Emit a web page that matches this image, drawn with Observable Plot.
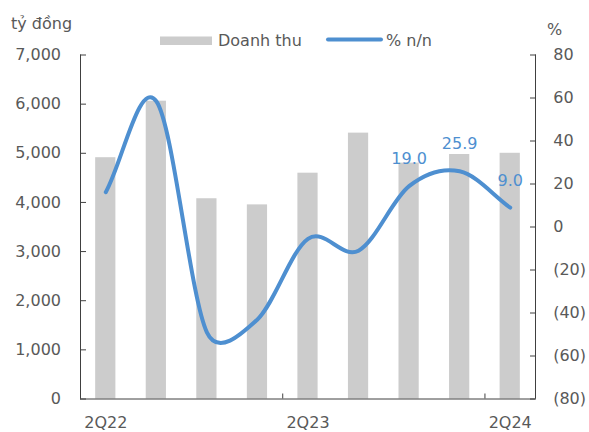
<!DOCTYPE html>
<html>
<head>
<meta charset="utf-8">
<script src="https://cdn.jsdelivr.net/npm/d3@7"></script>
<script src="https://cdn.jsdelivr.net/npm/@observablehq/plot@0.6"></script>
<style>
  html, body { margin: 0; padding: 0; background: #fff; }
  #wrap { position: relative; width: 589px; height: 432px; font-family: "DejaVu Sans", sans-serif; }
  #legend { position: absolute; left: 0; top: 0; pointer-events: none; }
</style>
</head>
<body>
<div id="wrap"></div>
<script>
// ---- data ----
const quarters = ["2Q22", "3Q22", "4Q22", "1Q23", "2Q23", "3Q23", "4Q23", "1Q24", "2Q24"];
const revenue = [4910, 6060, 4075, 3950, 4595, 5410, 4800, 4975, 5000];   // tỷ đồng
const growth = [16.2, 58.5, -49, -43, -5.5, -11, 19.0, 25.9, 9.0];        // % n/n
const labeledQuarters = ["4Q23", "1Q24", "2Q24"];
const leftTicks = [0, 1000, 2000, 3000, 4000, 5000, 6000, 7000];
const rightTicks = [-80, -60, -40, -20, 0, 20, 40, 60, 80];
const xLabelQuarters = ["2Q22", "2Q23", "2Q24"];
const xBoundaryAfter = [-1, 3, 7, 8]; // tick marks after these category indices

const yMax = 7000, pMin = -80, pMax = 80;
const pctToY = p => (p - pMin) / (pMax - pMin) * yMax;
const yToPct = y => y / yMax * (pMax - pMin) + pMin;
const fmtPct = p => { const r = Math.round(p); return r < 0 ? `(${-r})` : `${r}`; };

const rows = quarters.map((q, i) => ({ q, i, rev: revenue[i], pct: growth[i] }));

const textColor = "#595959";
const axisColor = "#404040";
const barColor = "#cccccc";
const lineColor = "#4e8fd0";
const halfBar = 0.2;

const xDomain = [-0.5, quarters.length - 0.5];

// spreadsheet-style smoothed line: Bezier with (p[i+1]-p[i-1])/6 handles,
// each handle capped at half of the segment length; mirrored phantom end points
function smoothCurve(context) {
  let pts = [];
  return {
    areaStart() {}, areaEnd() {},
    lineStart() { pts = []; },
    point(x, y) { pts.push([+x, +y]); },
    lineEnd() {
      const n = pts.length;
      if (!n) return;
      context.moveTo(pts[0][0], pts[0][1]);
      const at = k => {
        if (k < 0) return [2 * pts[0][0] - pts[1][0], 2 * pts[0][1] - pts[1][1]];
        if (k > n - 1) return [2 * pts[n - 1][0] - pts[n - 2][0], 2 * pts[n - 1][1] - pts[n - 2][1]];
        return pts[k];
      };
      for (let i = 0; i < n - 1; i++) {
        const p0 = at(i - 1), p1 = pts[i], p2 = pts[i + 1], p3 = at(i + 2);
        const half = Math.hypot(p2[0] - p1[0], p2[1] - p1[1]) / 2;
        let ax = (p2[0] - p0[0]) / 6, ay = (p2[1] - p0[1]) / 6;
        const la = Math.hypot(ax, ay);
        if (la > half) { ax *= half / la; ay *= half / la; }
        let bx = (p3[0] - p1[0]) / 6, by = (p3[1] - p1[1]) / 6;
        const lb = Math.hypot(bx, by);
        if (lb > half) { bx *= half / lb; by *= half / lb; }
        context.bezierCurveTo(p1[0] + ax, p1[1] + ay, p2[0] - bx, p2[1] - by, p2[0], p2[1]);
      }
    }
  };
}

const chart = Plot.plot({
  width: 589,
  height: 432,
  marginLeft: 80,
  marginRight: 54,
  marginTop: 54.5,
  marginBottom: 33.5,
  style: { fontFamily: "DejaVu Sans", fontSize: "16px", color: textColor, background: "white", overflow: "visible" },
  x: { type: "linear", domain: xDomain },
  y: { type: "linear", domain: [0, yMax] },
  marks: [
    Plot.rectY(rows, { x1: d => d.i - halfBar, x2: d => d.i + halfBar, y1: 0, y2: "rev", fill: barColor }),
    Plot.line(rows, { x: "i", y: d => pctToY(d.pct), curve: smoothCurve, stroke: lineColor, strokeWidth: 4, strokeLinecap: "round", strokeLinejoin: "round" }),
    Plot.text(rows.filter(d => labeledQuarters.includes(d.q)), {
      x: "i", y: d => pctToY(d.pct), text: d => d.pct.toFixed(1), dy: -27, fill: lineColor, fontSize: 16
    }),
    // left axis
    Plot.axisY({ anchor: "left", ticks: leftTicks, tickSize: 0, tickPadding: 19.5, tickFormat: d3.format(","), label: null, fill: textColor }),
    Plot.axisY({ anchor: "left", ticks: leftTicks, tickSize: -6, tickFormat: () => "", label: null, stroke: axisColor }),
    // right axis
    Plot.axisY({ anchor: "right", ticks: rightTicks.map(pctToY), tickSize: 0, tickPadding: 17.7, tickFormat: v => fmtPct(yToPct(v)), label: null, fill: textColor }),
    Plot.axisY({ anchor: "right", ticks: rightTicks.map(pctToY), tickSize: -6, tickFormat: () => "", label: null, stroke: axisColor }),
    // x axis
    Plot.axisX({ ticks: xLabelQuarters.map(q => quarters.indexOf(q)), tickSize: 0, tickPadding: 17.5, tickFormat: i => quarters[i], label: null, fill: textColor }),
    Plot.axisX({ ticks: xBoundaryAfter.map(i => i + 0.5), tickSize: -5, tickFormat: () => "", label: null, stroke: axisColor }),
    Plot.ruleX(xDomain, { y1: 0, y2: yMax, stroke: axisColor }),
    Plot.ruleY([0], { stroke: axisColor })
  ]
});

const wrap = document.getElementById("wrap");
wrap.appendChild(chart);

// legend & axis titles overlay
const ns = "http://www.w3.org/2000/svg";
const ov = document.createElementNS(ns, "svg");
ov.setAttribute("id", "legend");
ov.setAttribute("width", 589);
ov.setAttribute("height", 60);
ov.setAttribute("font-family", "DejaVu Sans");
ov.setAttribute("font-size", "16");
function addText(x, y, s, anchor) {
  const t = document.createElementNS(ns, "text");
  t.setAttribute("x", x); t.setAttribute("y", y);
  t.setAttribute("fill", textColor);
  if (anchor) t.setAttribute("text-anchor", anchor);
  t.textContent = s;
  ov.appendChild(t);
}
addText(11, 29, "tỷ đồng");
addText(547, 35, "%");
const sw = document.createElementNS(ns, "rect");
sw.setAttribute("x", 160); sw.setAttribute("y", 36.5); sw.setAttribute("width", 52); sw.setAttribute("height", 8.5);
sw.setAttribute("fill", barColor);
ov.appendChild(sw);
addText(218, 46, "Doanh thu");
const ln = document.createElementNS(ns, "line");
ln.setAttribute("x1", 328); ln.setAttribute("x2", 381); ln.setAttribute("y1", 39.5); ln.setAttribute("y2", 39.5);
ln.setAttribute("stroke", lineColor); ln.setAttribute("stroke-width", 4); ln.setAttribute("stroke-linecap", "round");
ov.appendChild(ln);
addText(386, 46, "% n/n");
wrap.appendChild(ov);
</script>
</body>
</html>
